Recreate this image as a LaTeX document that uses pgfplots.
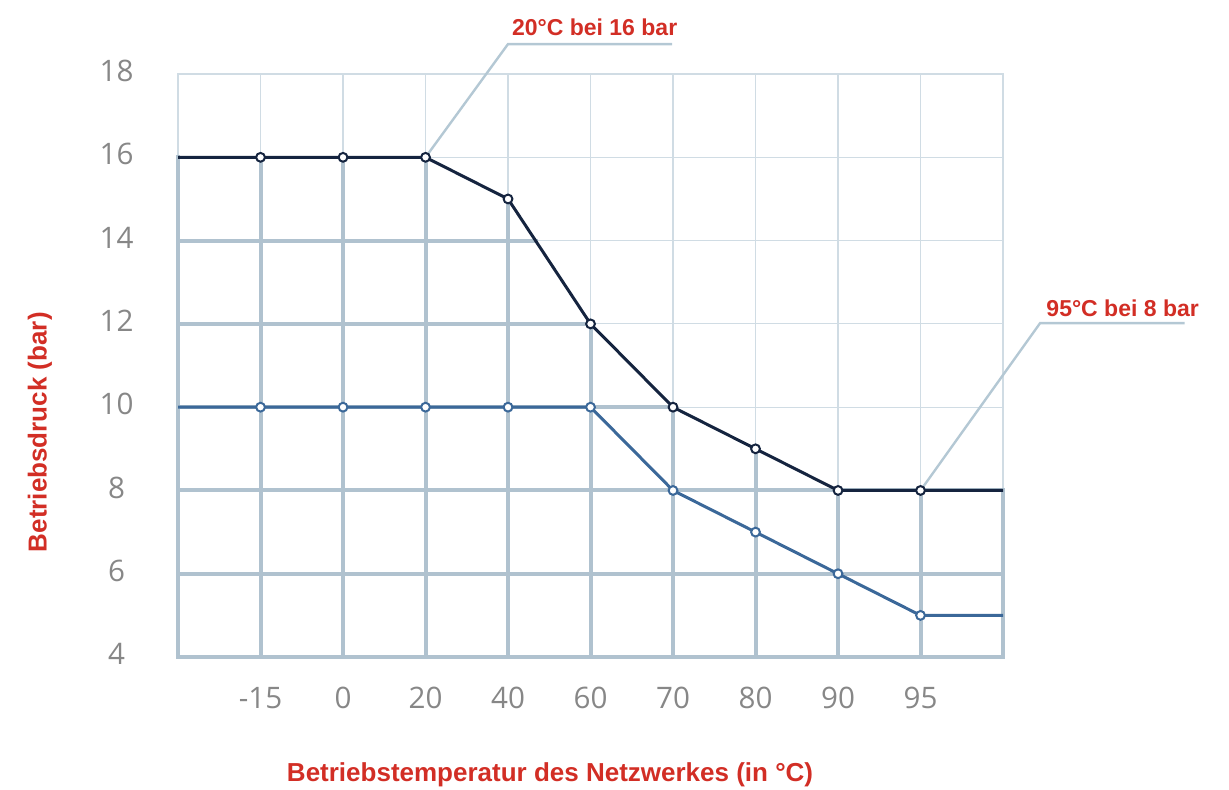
\documentclass[border=0pt]{standalone}
\usepackage{pgfplots}
\pgfplotsset{compat=1.18}
\usepackage{fontspec}
\setmainfont{Open Sans}
\newfontfamily\labelfont{Liberation Sans}

\definecolor{gridthin}{HTML}{D0DCE4}
\definecolor{gridthick}{HTML}{B0C2CF}
\definecolor{darkline}{HTML}{15243F}
\definecolor{blueline}{HTML}{3B6899}
\definecolor{redlabel}{HTML}{D22E25}
\definecolor{ticktext}{HTML}{878787}
\definecolor{leader}{HTML}{B4C8D4}

\begin{document}
\begin{tikzpicture}
\begin{axis}[
    scale only axis,
    width=412.5pt, height=291.5pt,
    xmin=0, xmax=10, ymin=4, ymax=18,
    xtick={1,...,9},
    xticklabels={-15,0,20,40,60,70,80,90,95},
    ytick={4,6,...,18},
    major tick length=0pt,
    grid=major,
    major grid style={gridthin, line width=0.6pt},
    axis line style={gridthin, line width=0.6pt},
    tick label style={font=\fontsize{14.8}{16}\selectfont, text=ticktext},
    xticklabel style={anchor=center, yshift=-20.5pt},
    yticklabel style={anchor=center, xshift=-30.7pt, yshift=1.5pt},
    /pgf/number format/assume math mode=true,
    clip=false,
    unbounded coords=jump,
]
% thicker grid below the upper curve
\addplot[gridthick, line width=2pt, line cap=rect] coordinates {
    (0,4) (0,16) (nan,nan)
    (1,4) (1,16) (nan,nan)
    (2,4) (2,16) (nan,nan)
    (3,4) (3,16) (nan,nan)
    (4,4) (4,15) (nan,nan)
    (5,4) (5,12) (nan,nan)
    (6,4) (6,10) (nan,nan)
    (7,4) (7,9) (nan,nan)
    (8,4) (8,8) (nan,nan)
    (9,4) (9,8) (nan,nan)
    (10,4) (10,8) (nan,nan)
    (0,4) (10,4) (nan,nan)
    (0,6) (10,6) (nan,nan)
    (0,8) (10,8) (nan,nan)
    (0,10) (6,10) (nan,nan)
    (0,12) (5,12) (nan,nan)
    (0,14) (4.333,14)
};
% leader lines
\addplot[leader, line width=1.2pt] coordinates {(3,16) (4.0,18.72) (5.99,18.72)};
\addplot[leader, line width=1.2pt] coordinates {(9,8) (10.45,12.02) (12.2,12.02)};
% series
\addplot[blueline, line width=1.5pt, mark=*, mark size=2.2pt,
    mark options={fill=white, draw=blueline, line width=1pt},
    mark indices={2,3,4,5,6,7,8,9,10}]
    coordinates {(0,10) (1,10) (2,10) (3,10) (4,10) (5,10) (6,8) (7,7) (8,6) (9,5) (10,5)};
\addplot[darkline, line width=1.5pt, mark=*, mark size=2.2pt,
    mark options={fill=white, draw=darkline, line width=1pt},
    mark indices={2,3,4,5,6,7,8,9,10}]
    coordinates {(0,16) (1,16) (2,16) (3,16) (4,15) (5,12) (6,10) (7,9) (8,8) (9,8) (10,8)};
% annotations
\node[font=\labelfont\bfseries\fontsize{11.5}{13}\selectfont, text=redlabel]
    at (axis cs:5.05,19.13) {20°C bei 16 bar};
\node[font=\labelfont\bfseries\fontsize{11.5}{13}\selectfont, text=redlabel]
    at (axis cs:11.45,12.38) {95°C bei 8 bar};
\node[font=\labelfont\bfseries\fontsize{13}{15}\selectfont, text=redlabel, rotate=90]
    at (axis cs:-1.673,9.40) {Betriebsdruck (bar)};
\node[font=\labelfont\bfseries\fontsize{13}{15}\selectfont, text=redlabel]
    at (axis cs:4.51,1.166) {Betriebstemperatur des Netzwerkes (in °C)};
\coordinate (bbsw) at (axis cs:-2.158,0.830);
\coordinate (bbne) at (axis cs:12.739,19.778);
\end{axis}
\pgfresetboundingbox
\path[use as bounding box] (bbsw) rectangle (bbne);
\end{tikzpicture}
\end{document}
